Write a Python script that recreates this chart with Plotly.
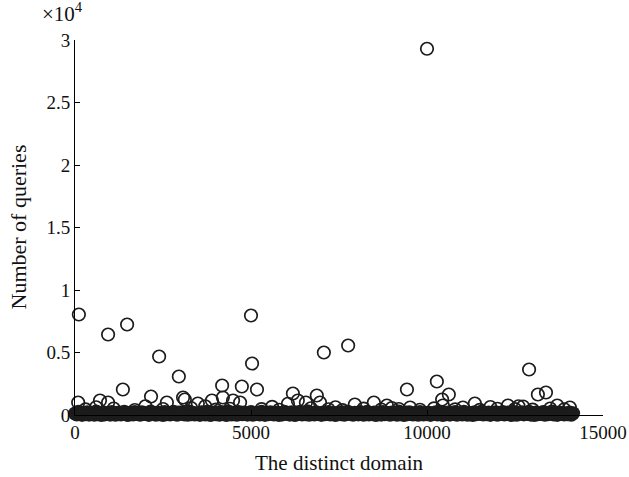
import plotly.graph_objects as go

# ---- data: sampled domains forming the dense low band (domain index, number of queries)
band_x = list(range(0, 14200, 50))
band_y = [
    120, 40, 260, 80, 10, 190, 60, 230, 30, 150, 90, 20, 280, 70, 140, 0, 210, 50, 170, 110,
    30, 240, 90, 15, 160, 200, 45, 120, 270, 60, 5, 180, 100, 35, 250, 75, 130, 20, 220, 85,
    140, 55, 10, 290, 95, 165, 25, 205, 70, 115, 0, 245, 60, 175, 40, 135, 265, 80, 15, 195,
    100, 225, 50, 145, 20, 275, 65, 185, 35, 125, 90, 10, 215, 155, 45, 255, 75, 5, 170, 110,
    60, 195, 25, 235, 85, 150, 0, 280, 115, 40, 180, 70, 20, 250, 130, 55, 210, 95, 30, 160,
    240, 15, 120, 75, 190, 45, 265, 100, 10, 170, 60, 225, 135, 35, 85, 200, 0, 155, 50, 270,
    90, 140, 30, 215, 70, 5, 185, 110, 255, 40, 125, 65, 295, 20, 175, 95, 45, 230, 80, 150,
    10, 205, 60, 120, 245, 35, 160, 85, 0, 190, 130, 55, 220, 15, 100, 270, 75, 140, 25, 180,
    115, 50, 235, 90, 20, 165, 260, 40, 135, 70, 200, 5, 155, 105, 30, 245, 60, 185, 95, 15,
    210, 80, 145, 25, 275, 55, 120, 0, 195, 65, 230, 110, 45, 170, 90, 20, 250, 125, 35, 160,
    70, 185, 10, 140, 95, 225, 40, 265, 115, 5, 175, 60, 205, 30, 150, 85, 240, 15, 130, 100,
    45, 255, 75, 20, 190, 120, 0, 215, 55, 160, 90, 280, 35, 135, 65, 200, 10, 170, 105, 230,
    25, 150, 85, 245, 40, 110, 195, 60, 5, 270, 125, 15, 180, 95, 220, 50, 140, 75, 260, 30,
    165, 0, 205, 55, 130, 90, 240, 20, 175, 70, 115, 285, 45, 155, 10, 210, 80, 190, 35, 125,
    60, 200, 20, 140,
]

# ---- data: individually visible domains above the band
peak_x = [10000, 110, 940, 1480, 2390, 2950, 1360, 2160, 5000, 5030,
          4180, 4740, 5170, 7070, 6190, 6870, 4200, 90, 710, 940,
          3120, 3070, 2610, 4490, 4690, 6330, 6560, 6960, 3890, 7760,
          12900, 10280, 9430, 10620, 10430, 13150, 13380, 8490, 7950, 8860,
          11360, 12300, 14060, 9520, 10450, 12730, 11020, 3490, 6050, 2000,
          5600, 7400, 9000, 11800, 12600, 13700, 600, 3700,
          300, 1100, 1700, 2500, 3300, 4000, 4400, 5300, 5800, 6700,
          7200, 7600, 8200, 8700, 9200, 9800, 10200, 10800, 11500, 12000,
          12500, 13000, 13500, 13900]
peak_y = [29300, 8040, 6440, 7240, 4680, 3080, 2040, 1480, 7960, 4120,
          2360, 2280, 2040, 5000, 1720, 1560, 1400, 1000, 1160, 1000,
          1240, 1400, 1000, 1160, 1000, 1160, 1000, 1000, 1160, 5560,
          3640, 2680, 2040, 1640, 1240, 1640, 1800, 1000, 840, 760,
          920, 760, 600, 600, 760, 680, 600, 920, 900, 700,
          650, 620, 560, 640, 700, 760, 620, 700,
          450, 520, 400, 480, 560, 430, 500, 470, 420, 540,
          460, 390, 510, 440, 480, 420, 530, 450, 410, 500,
          470, 430, 520, 460]

x_tick_vals = [0, 5000, 10000, 15000]
x_tick_text = ["0", "5000", "10000", "15000"]
y_tick_vals = [0, 5000, 10000, 15000, 20000, 25000, 30000]
y_tick_text = ["0", "0.5", "1", "1.5", "2", "2.5", "3"]

FONT = "Liberation Serif"
INK = "#1c1c1c"

open_marker = dict(symbol="circle-open", size=12.5, color=INK, line=dict(width=1.7, color=INK))
solid_marker = dict(symbol="circle", size=14, color=INK, line=dict(width=0))

fig = go.Figure()
# overlapping circles of thousands of domains merge into a solid band
fig.add_trace(go.Scatter(x=band_x, y=band_y, mode="markers", marker=solid_marker,
                         cliponaxis=False, showlegend=False, hoverinfo="skip"))
fig.add_trace(go.Scatter(x=peak_x, y=peak_y, mode="markers", marker=open_marker,
                         cliponaxis=False, showlegend=False))

axis_common = dict(showgrid=False, zeroline=False, showline=True, linecolor="#000",
                   linewidth=1, ticks="inside", ticklen=5, tickcolor="#000", tickwidth=1,
                   automargin=False,
                   tickfont=dict(family=FONT, size=19, color="#111"))

fig.update_layout(
    width=629, height=477,
    margin=dict(l=75, r=26, t=40, b=62, pad=0, autoexpand=False),
    plot_bgcolor="white", paper_bgcolor="white",
    xaxis=dict(range=[0, 15000], tickvals=x_tick_vals, ticktext=x_tick_text, **axis_common),
    yaxis=dict(range=[0, 30000], tickvals=y_tick_vals, ticktext=y_tick_text, **axis_common),
    annotations=[
        dict(text="×10<sup>4</sup>", xref="paper", yref="paper", x=0, y=1,
             xanchor="center", yanchor="bottom", xshift=-13, yshift=12, showarrow=False,
             font=dict(family=FONT, size=21, color="#111")),
        dict(text="The distinct domain", xref="paper", yref="paper", x=0.5, y=0,
             xanchor="center", yanchor="middle", yshift=-48, showarrow=False,
             font=dict(family=FONT, size=21, color="#111")),
        dict(text="Number of queries", xref="paper", yref="paper", x=0, y=0.5,
             xanchor="center", yanchor="middle", xshift=-57, textangle=-90, showarrow=False,
             font=dict(family=FONT, size=22, color="#111")),
    ],
)

fig.write_html("out.html")
